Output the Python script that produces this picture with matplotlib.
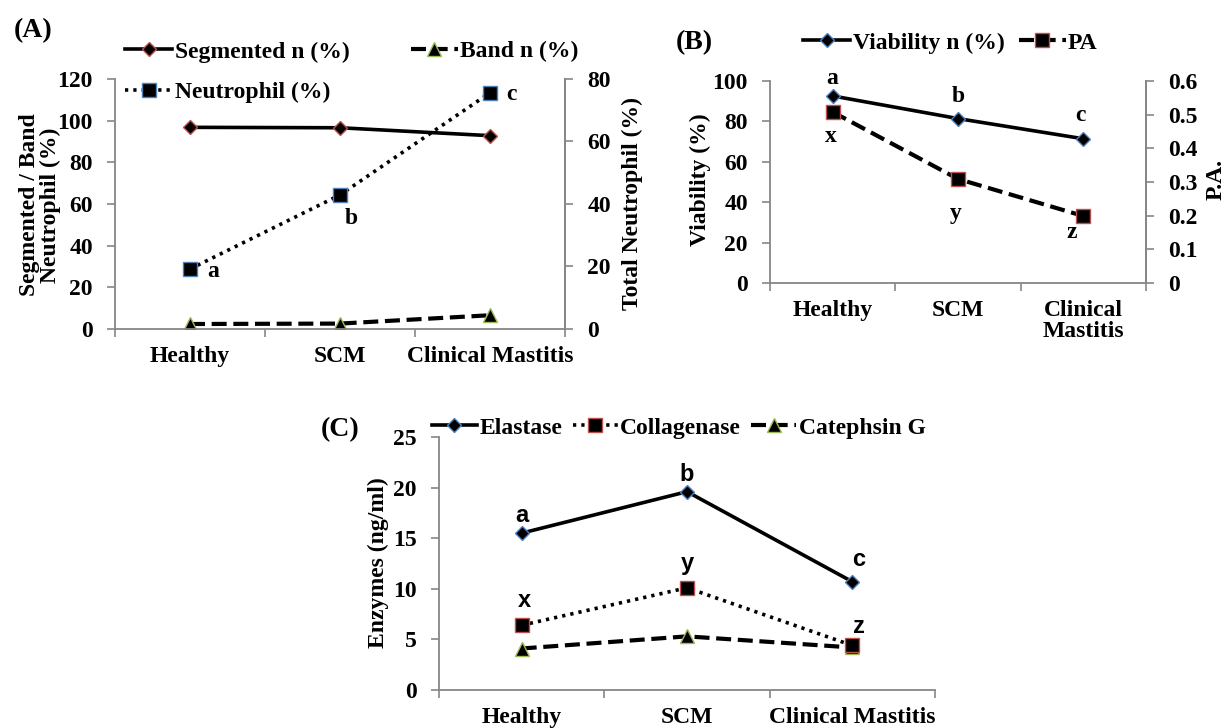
import numpy as np
import matplotlib
matplotlib.use("Agg")
import matplotlib.pyplot as plt

plt.rcParams['font.family'] = ['Liberation Serif', 'DejaVu Serif']
plt.rcParams['font.weight'] = 'bold'

# ---------------- data ----------------
categories_a = ['Healthy', 'SCM', 'Clinical Mastitis']
segmented = [96.8, 96.6, 92.8]
band = [2.4, 2.6, 6.6]
neutrophil = [19.2, 42.9, 75.6]
letters_a = ['a', 'b', 'c']

categories_b = ['Healthy', 'SCM', 'Clinical\nMastitis']
viability = [92.6, 81.4, 71.4]
pa = [0.508, 0.309, 0.199]
letters_via = ['a', 'b', 'c']
letters_pa = ['x', 'y', 'z']

categories_c = ['Healthy', 'SCM', 'Clinical Mastitis']
elastase = [15.5, 19.6, 10.7]
collagenase = [6.4, 10.1, 4.4]
cathepsin = [4.1, 5.3, 4.2]
letters_el = ['a', 'b', 'c']
letters_col = ['x', 'y', 'z']

yticks_a_left = [0, 20, 40, 60, 80, 100, 120]
yticks_a_right = [0, 20, 40, 60, 80]
yticks_b_left = [0, 20, 40, 60, 80, 100]
yticks_b_right = [0, 0.1, 0.2, 0.3, 0.4, 0.5, 0.6]
ytick_labels_b_right = ['0', '0.1', '0.2', '0.3', '0.4', '0.5', '0.6']
yticks_c = [0, 5, 10, 15, 20, 25]

# ---------------- style ----------------
GRAY = '#868686'
RED = '#C0504D'
BLUE = '#4F81BD'
GREEN = '#9BBB59'
FS = 17
W, H = 1228, 728

fig = plt.figure(figsize=(W / 100, H / 100), dpi=100)


def box(l, t, r, b):
    return [l / W, 1 - b / H, (r - l) / W, (b - t) / H]


def style_x(ax, cats):
    n = len(cats)
    ax.set_xlim(0, n)
    ax.set_xticks(np.arange(n + 1))
    ax.set_xticklabels([])
    ax.set_xticks(np.arange(n) + 0.5, minor=True)
    ax.set_xticklabels(cats, minor=True, fontsize=FS, fontweight='bold')
    ax.tick_params(axis='x', which='major', length=6, width=1.2, color=GRAY, direction='out')
    ax.tick_params(axis='x', which='minor', length=0, pad=12)
    ax.spines['top'].set_visible(False)
    for s in ['left', 'bottom', 'right']:
        ax.spines[s].set_color(GRAY)
        ax.spines[s].set_linewidth(1.3)
    ax.tick_params(axis='y', length=6, width=1.2, color=GRAY, direction='out',
                   labelsize=FS, pad=10)


def style_twin(ax2):
    for s in ['left', 'top', 'bottom']:
        ax2.spines[s].set_visible(False)
    ax2.spines['right'].set_color(GRAY)
    ax2.spines['right'].set_linewidth(1.3)
    ax2.tick_params(axis='y', length=6, width=1.2, color=GRAY, direction='out',
                    labelsize=FS, pad=10)


def lab(ax, xs, ys, texts, dx, dy, family=None):
    for x, y, t, ddx, ddy in zip(xs, ys, texts, dx, dy):
        kw = dict(fontsize=FS, fontweight='bold', ha='center', va='center')
        if family:
            kw['family'] = family
        ax.annotate(t, (x, y), xytext=(ddx, ddy), textcoords='offset pixels', **kw)


solid = dict(linestyle='-', linewidth=2.6, color='black')
dashed = dict(linestyle=(0, (3.6, 1.6)), linewidth=3.0, color='black')
dotted = dict(linestyle=(0, (0.9, 1.4)), linewidth=2.6, color='black')

# ---------------- Panel A ----------------
axA = fig.add_axes(box(115, 79, 565, 329))
xa = np.arange(len(categories_a)) + 0.5
lA1, = axA.plot(xa, segmented, marker='D', ms=7.5, mfc='black', mec=RED, mew=1.0,
                label='Segmented n (%)', **solid)
lA2, = axA.plot(xa, band, marker='^', ms=9.5, mfc='black', mec=GREEN, mew=1.0,
                label='Band n (%)', **dashed)
axA.set_ylim(0, 120)
axA.set_yticks(yticks_a_left)
style_x(axA, categories_a)
axA2 = axA.twinx()
lA3, = axA2.plot(xa, neutrophil, marker='s', ms=9.5, mfc='black', mec=BLUE, mew=1.0,
                 label='Neutrophil (%)', **dotted)
axA2.set_ylim(0, 80)
axA2.set_yticks(yticks_a_right)
style_twin(axA2)
lab(axA2, xa, neutrophil, letters_a, [23, 11, 21], [-3, -24, -2])

fig.legend([lA1, lA3, lA2], ['Segmented n (%)', 'Neutrophil (%)', 'Band n (%)'],
           loc='upper left', bbox_to_anchor=(125 / W, 1 - 41 / H), ncol=2,
           frameon=False, fontsize=FS, borderpad=0, borderaxespad=0,
           handlelength=2.0, handletextpad=0.1, columnspacing=2.6, labelspacing=0.8)

fig.text(33 / W, 1 - 31 / H, '(A)', fontsize=20, fontweight='bold', ha='center', va='center')
fig.text(40 / W, 1 - 205 / H, 'Segmented / Band\nNeutrophil (%)', fontsize=FS,
         fontweight='bold', rotation=90, ha='center', va='center', multialignment='center',
         linespacing=1.0)
fig.text(632 / W, 1 - 203 / H, 'Total Neutrophil (%)', fontsize=FS, fontweight='bold',
         rotation=90, ha='center', va='center')

# ---------------- Panel B ----------------
axB = fig.add_axes(box(770, 81, 1146, 283))
xb = np.arange(len(categories_b)) + 0.5
lB1, = axB.plot(xb, viability, marker='D', ms=7.5, mfc='black', mec=BLUE, mew=1.0,
                label='Viability n (%)', **solid)
axB.set_ylim(0, 100)
axB.set_yticks(yticks_b_left)
style_x(axB, categories_b)
for t in axB.get_xticklabels(minor=True):
    t.set_linespacing(1.0)
axB2 = axB.twinx()
lB2, = axB2.plot(xb, pa, marker='s', ms=9.5, mfc='black', mec=RED, mew=1.0,
                 label='PA', **dashed)
axB2.set_ylim(0, 0.6)
axB2.set_yticks(yticks_b_right)
axB2.set_yticklabels(ytick_labels_b_right)
style_twin(axB2)
lab(axB, xb, viability, letters_via, [0, 0, -3], [17, 22, 23])
lab(axB2, xb, pa, letters_pa, [-2, -2, -12], [-25, -35, -16])

fig.legend([lB1, lB2], ['Viability n (%)', 'PA'], loc='upper left',
           bbox_to_anchor=(803 / W, 1 - 32 / H), ncol=2, frameon=False, fontsize=FS,
           borderpad=0, borderaxespad=0, handlelength=2.0, handletextpad=0.1,
           columnspacing=0.6)
fig.text(694 / W, 1 - 43 / H, '(B)', fontsize=20, fontweight='bold', ha='center', va='center')
fig.text(700 / W, 1 - 180 / H, 'Viability (%)', fontsize=FS, fontweight='bold',
         rotation=90, ha='center', va='center')
fig.text(1216 / W, 1 - 180 / H, 'P.A.', fontsize=FS, fontweight='bold',
         rotation=90, ha='center', va='center')

# ---------------- Panel C ----------------
axC = fig.add_axes(box(439, 437, 935, 690))
xc = np.arange(len(categories_c)) + 0.5
lC1, = axC.plot(xc, elastase, marker='D', ms=7.5, mfc='black', mec=BLUE, mew=1.0,
                label='Elastase', **solid)
lC3, = axC.plot(xc, cathepsin, marker='^', ms=9.5, mfc='black', mec=GREEN, mew=1.0,
                label='Catephsin G', **dashed)
lC2, = axC.plot(xc, collagenase, marker='s', ms=9.5, mfc='black', mec=RED, mew=1.0,
                label='Collagenase', **dotted)
axC.set_ylim(0, 25)
axC.set_yticks(yticks_c)
style_x(axC, categories_c)
axC.spines['right'].set_visible(False)
lab(axC, xc, elastase, letters_el, [0, 0, 6], [18, 17, 22], family='Liberation Sans')
lab(axC, xc, collagenase, letters_col, [3, 0, 7], [25, 24, 19], family='Liberation Sans')

fig.legend([lC1, lC2, lC3], ['Elastase', 'Collagenase', 'Catephsin G'], loc='upper left',
           bbox_to_anchor=(432 / W, 1 - 417 / H), ncol=3, frameon=False, fontsize=FS,
           borderpad=0, borderaxespad=0, handlelength=1.9, handletextpad=0.1,
           columnspacing=0.45)
fig.text(340 / W, 1 - 430 / H, '(C)', fontsize=20, fontweight='bold', ha='center', va='center')
fig.text(378 / W, 1 - 563 / H, 'Enzymes (ng/ml)', fontsize=FS, fontweight='bold',
         rotation=90, ha='center', va='center')

fig.savefig('out.png', dpi=100)
